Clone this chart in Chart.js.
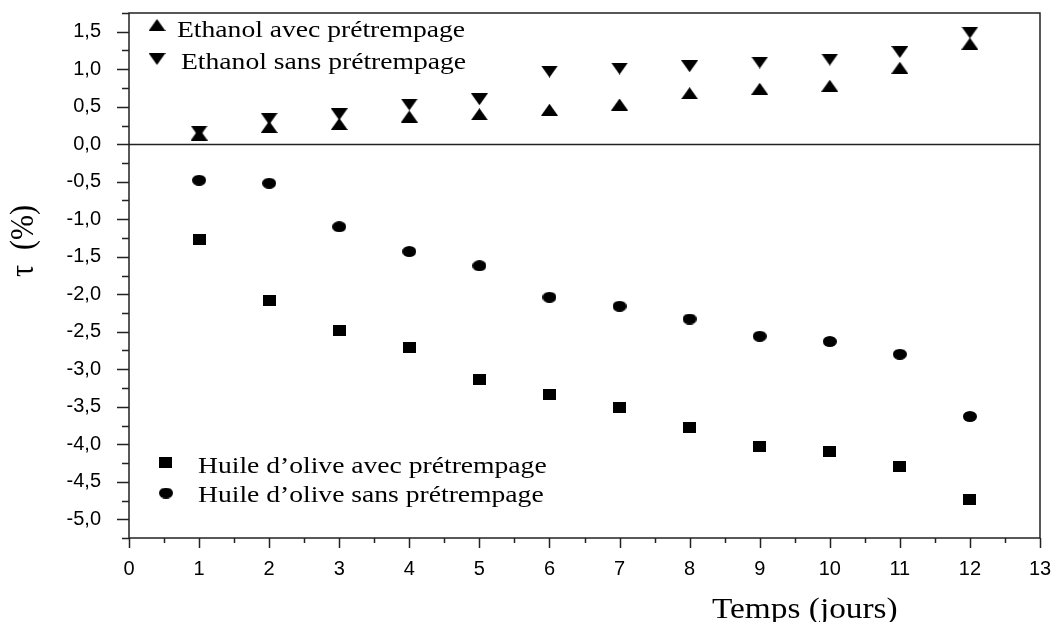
<!DOCTYPE html>
<html>
<head>
<meta charset="utf-8">
<script src="https://cdn.jsdelivr.net/npm/chart.js@4.4.1/dist/chart.umd.min.js"></script>
<style>
  html, body { margin: 0; padding: 0; background: #fff; }
  #wrap { width: 1051px; height: 622px; }
</style>
</head>
<body>
<div id="wrap"><canvas id="chart"></canvas></div>
<script>
// jours de mesure
const jours = [1, 2, 3, 4, 5, 6, 7, 8, 9, 10, 11, 12];

// taux de variation tau (%) par série
const ethanolAvec = [0.13, 0.23, 0.27, 0.37, 0.40, 0.46, 0.53, 0.68, 0.74, 0.78, 1.02, 1.34];
const ethanolSans = [0.17, 0.34, 0.40, 0.53, 0.60, 0.97, 1.01, 1.04, 1.09, 1.13, 1.23, 1.49];
const huileAvec = [-1.27, -2.08, -2.48, -2.71, -3.13, -3.34, -3.51, -3.77, -4.03, -4.10, -4.30, -4.73];
const huileSans = [-0.48, -0.52, -1.10, -1.43, -1.62, -2.04, -2.16, -2.33, -2.56, -2.63, -2.80, -3.63];

const libelles = [
  'Ethanol avec prétrempage',
  'Ethanol sans prétrempage',
  'Huile d\u2019olive avec prétrempage',
  'Huile d\u2019olive sans prétrempage'
];

// bornes des axes
const xMin = 0, xMax = 13, xPas = 0.5;
const yMin = -5.25, yMax = 1.75, yPas = 0.25;

const SERIF = '"Liberation Serif", "Times New Roman", serif';
const SANS = '"Liberation Sans", Arial, sans-serif';
const ETIRE = 1.15; // les textes de la figure sont légèrement élargis

// petits symboles dessinés à la main (un peu aplatis comme dans la figure)
function symbole(w, h, dessin) {
  const c = document.createElement('canvas');
  c.width = w; c.height = h;
  const g = c.getContext('2d');
  g.fillStyle = '#000';
  g.beginPath();
  dessin(g, w, h);
  g.fill();
  return c;
}
const triHaut = symbole(17, 12, (g, w, h) => { g.moveTo(0, h); g.lineTo(w / 2, 0); g.lineTo(w, h); g.closePath(); });
const triBas = symbole(17, 12, (g, w, h) => { g.moveTo(0, 0); g.lineTo(w, 0); g.lineTo(w / 2, h); g.closePath(); });
const carre = symbole(13, 11, (g, w, h) => { g.rect(0, 0, w, h); });
const rond = symbole(14, 11, (g, w, h) => { g.ellipse(w / 2, h / 2, w / 2, h / 2, 0, 0, Math.PI * 2); });

function points(ys) {
  return jours.map((j, i) => ({ x: j, y: ys[i] }));
}

function texteEtire(ctx, txt, x, y) {
  ctx.save();
  ctx.translate(x, y);
  ctx.scale(ETIRE, 1);
  ctx.fillText(txt, 0, 0);
  ctx.restore();
}

const estDemi = v => Math.abs(v * 2 - Math.round(v * 2)) < 1e-6;

// cadre, ligne du zéro, graduations, légendes et titres
const habillage = {
  id: 'habillage',
  beforeDatasetsDraw(chart) {
    const { ctx, chartArea: a, scales: { y } } = chart;
    ctx.save();
    ctx.strokeStyle = '#222';
    ctx.lineWidth = 1.5;
    ctx.strokeRect(a.left, a.top, a.right - a.left, a.bottom - a.top);
    const y0 = Math.round(y.getPixelForValue(0)) + 0.5;
    ctx.beginPath();
    ctx.moveTo(a.left, y0);
    ctx.lineTo(a.right, y0);
    ctx.stroke();
    ctx.restore();
  },
  afterDraw(chart) {
    const { ctx, chartArea: a, scales: { x, y } } = chart;
    ctx.save();
    ctx.strokeStyle = '#222';
    ctx.lineWidth = 1.5;
    ctx.beginPath();
    y.ticks.forEach(t => {
      const py = Math.round(y.getPixelForValue(t.value)) + 0.5;
      const len = estDemi(t.value) ? 12 : 7;
      ctx.moveTo(a.left - len, py);
      ctx.lineTo(a.left, py);
    });
    x.ticks.forEach(t => {
      const px = Math.round(x.getPixelForValue(t.value)) + 0.5;
      const len = Number.isInteger(t.value) ? 10 : 5;
      ctx.moveTo(px, a.bottom);
      ctx.lineTo(px, a.bottom + len);
    });
    ctx.stroke();

    // légendes
    ctx.fillStyle = '#000';
    ctx.font = '24px ' + SERIF;
    ctx.textBaseline = 'alphabetic';
    ctx.textAlign = 'left';
    const l = a.left, t = a.top;
    ctx.drawImage(triHaut, l + 28 - 8.5, t + 12 - 6);
    texteEtire(ctx, libelles[0], l + 48, t + 24);
    ctx.drawImage(triBas, l + 28 - 8.5, t + 46 - 6);
    texteEtire(ctx, libelles[1], l + 52, t + 56);
    ctx.drawImage(carre, l + 36 - 6.5, 462 - 5.5);
    texteEtire(ctx, libelles[2], l + 69, 473);
    ctx.drawImage(rond, l + 37 - 7, 493 - 5.5);
    texteEtire(ctx, libelles[3], l + 69, 502);

    // titre de l'axe des x
    ctx.font = '29px ' + SERIF;
    texteEtire(ctx, 'Temps (jours)', 712, 618);

    // titre de l'axe des y, vertical
    ctx.font = '30px ' + SERIF;
    ctx.textAlign = 'center';
    ctx.translate(33, 241);
    ctx.rotate(-Math.PI / 2);
    ctx.scale(1, ETIRE);
    ctx.fillText('\u03c4  (%)', 0, 0);
    ctx.restore();
  }
};

const commun = { showLine: false, pointRadius: 7, pointHoverRadius: 7, borderWidth: 0 };

new Chart(document.getElementById('chart'), {
  type: 'scatter',
  data: {
    datasets: [
      { ...commun, label: libelles[0], data: points(ethanolAvec), pointStyle: triHaut },
      { ...commun, label: libelles[1], data: points(ethanolSans), pointStyle: triBas },
      { ...commun, label: libelles[2], data: points(huileAvec), pointStyle: carre },
      { ...commun, label: libelles[3], data: points(huileSans), pointStyle: rond }
    ]
  },
  options: {
    responsive: true,
    maintainAspectRatio: false,
    animation: false,
    events: [],
    layout: { padding: { top: 13, right: 11, left: 0, bottom: 0 } },
    plugins: { legend: { display: false }, tooltip: { enabled: false } },
    scales: {
      x: {
        type: 'linear',
        min: xMin, max: xMax,
        grid: { display: false, drawTicks: false },
        border: { display: false },
        ticks: {
          stepSize: xPas,
          autoSkip: false,
          maxRotation: 0,
          padding: 19,
          color: '#000',
          font: { family: SANS, size: 20 },
          callback: v => Number.isInteger(v) ? String(v) : ''
        },
        afterFit: s => { s.height = 84; s.paddingLeft = 0; s.paddingRight = 0; }
      },
      y: {
        type: 'linear',
        min: yMin, max: yMax,
        grid: { display: false, drawTicks: false },
        border: { display: false },
        ticks: {
          stepSize: yPas,
          autoSkip: false,
          padding: 28,
          color: '#000',
          font: { family: SANS, size: 20 },
          callback: v => estDemi(v) ? v.toFixed(1).replace('.', ',') : ''
        },
        afterFit: s => { s.width = 129; s.paddingTop = 0; s.paddingBottom = 0; }
      }
    }
  },
  plugins: [habillage]
});
</script>
</body>
</html>
